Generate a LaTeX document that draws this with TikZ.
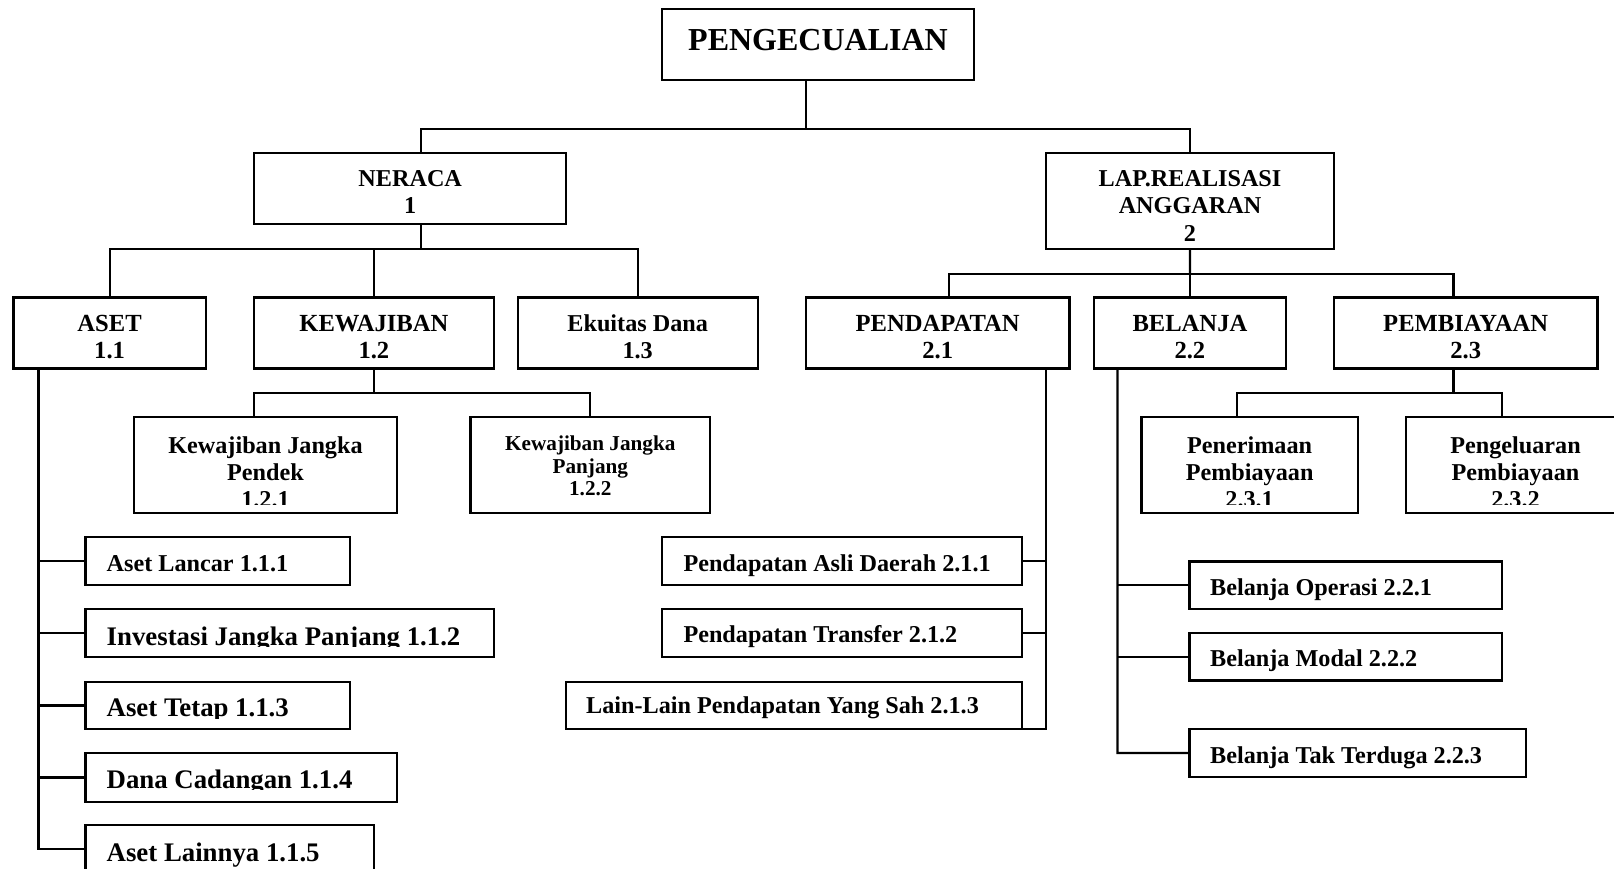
\documentclass[tikz,border=0pt]{standalone}
\usepackage{fontspec}
\setmainfont{Liberation Serif}
\newcommand\mkbox[5]{\node[bx, minimum width={#4pt-#2pt}, minimum height={#5pt-#3pt}] (#1) at ({(#2+#4)/2},{(#3+#5)/2}) {};}
\begin{document}
\begin{tikzpicture}[x=1pt,y=-1pt,
  bx/.style={draw, line width=2.2pt, rectangle, inner sep=0pt, outer sep=0pt},
  ln/.style={line width=2.2pt},
  tx/.style={inner sep=0pt, anchor=base, font=\bfseries\fontsize{24.2}{27}\selectfont},
  txl/.style={tx, anchor=base west},
  hdr/.style={font=\bfseries\fontsize{24.6}{27}\selectfont},
  big/.style={font=\bfseries\fontsize{26.8}{30}\selectfont},
  sml/.style={font=\bfseries\fontsize{21.2}{23}\selectfont},
  ttl/.style={font=\bfseries\fontsize{32}{36}\selectfont}]
\useasboundingbox (0,0) rectangle (1614,869);
\fill[white] (0,0) rectangle (1614,869);

% ---------- boxes ----------
\mkbox{title}{662}{9.3}{973.7}{80.3}
\mkbox{neraca}{254.2}{153.4}{566.1}{224.4}
\mkbox{lap}{1045.8}{153.4}{1334}{249.1}
\mkbox{aset}{13.4}{297.5}{205.9}{368.5}
\mkbox{kew}{254.2}{297.5}{493.6}{368.5}
\mkbox{eku}{517.7}{297.5}{757.6}{368.5}
\mkbox{pend}{806}{297.5}{1069.5}{368.5}
\mkbox{bel}{1094.2}{297.5}{1285.6}{368.5}
\mkbox{pemb}{1334}{297.5}{1597.5}{368.5}
\mkbox{kjp}{133.8}{416.9}{397.3}{512.6}
\mkbox{kjpj}{470.4}{416.9}{710.2}{512.6}
\mkbox{pen}{1141.5}{416.9}{1357.7}{512.6}
\mkbox{peng}{1406}{416.9}{1625}{512.6}
\mkbox{lancar}{85.5}{537.3}{350}{584.6}
\mkbox{invest}{85.5}{609.3}{494}{656.7}
\mkbox{tetap}{85.5}{681.7}{350}{729.3}
\mkbox{dana}{85.5}{753.3}{397.3}{801.7}
\mkbox{lainnya}{85.5}{825}{373.6}{873}
\mkbox{pad}{661.8}{537.3}{1022}{584.6}
\mkbox{trans}{661.8}{609.3}{1022}{656.7}
\mkbox{lain}{566}{681.7}{1022}{728.8}
\mkbox{op}{1189.5}{561.5}{1502}{608.8}
\mkbox{mod}{1189.5}{633}{1502}{680.4}
\mkbox{tak}{1189.5}{728.8}{1526}{777.1}

% ---------- texts ----------
\node[tx,ttl] (t-title) at (818,51) {PENGECUALIAN};
\node[tx] (t-ner1) at (410.2,186.5) {NERACA};
\node[tx] (t-ner2) at (410.2,213.5) {1};
\node[tx] (t-lap1) at (1190,186.5) {LAP.REALISASI};
\node[tx] (t-lap2) at (1190,213.5) {ANGGARAN};
\node[tx] (t-lap3) at (1190,241) {2};
\node[tx,hdr] (t-aset1) at (109.6,331) {ASET};
\node[tx,hdr] (t-aset2) at (109.6,358.5) {1.1};
\node[tx,hdr] (t-kew1) at (373.9,331) {KEWAJIBAN};
\node[tx,hdr] (t-kew2) at (373.9,358.5) {1.2};
\node[tx] (t-eku1) at (637.7,331) {Ekuitas Dana};
\node[tx] (t-eku2) at (637.7,358.5) {1.3};
\node[tx,hdr] (t-pend1) at (937.7,331) {PENDAPATAN};
\node[tx,hdr] (t-pend2) at (937.7,358.5) {2.1};
\node[tx,hdr] (t-bel1) at (1189.9,331) {BELANJA};
\node[tx,hdr] (t-bel2) at (1189.9,358.5) {2.2};
\node[tx,hdr] (t-pemb1) at (1465.7,331) {PEMBIAYAAN};
\node[tx,hdr] (t-pemb2) at (1465.7,358.5) {2.3};
\begin{scope}
\clip (133.8,416.9) rectangle (397.3,504);
\node[tx] (t-kjp1) at (265.5,453) {Kewajiban Jangka};
\node[tx] (t-kjp2) at (265.5,480) {Pendek};
\node[tx] (t-kjp3) at (265.5,507) {1.2.1};
\end{scope}
\node[tx,sml] (t-kjpj1) at (590.3,450) {Kewajiban Jangka};
\node[tx,sml] (t-kjpj2) at (590.3,473) {Panjang};
\node[tx,sml] (t-kjpj3) at (590.3,495) {1.2.2};
\begin{scope}
\clip (1141.5,416.9) rectangle (1625,504);
\node[tx] (t-pen1) at (1249.6,453) {Penerimaan};
\node[tx] (t-pen2) at (1249.6,480) {Pembiayaan};
\node[tx] (t-pen3) at (1249.6,507) {2.3.1};
\node[tx] (t-peng1) at (1515.5,453) {Pengeluaran};
\node[tx] (t-peng2) at (1515.5,480) {Pembiayaan};
\node[tx] (t-peng3) at (1515.5,507) {2.3.2};
\end{scope}
\node[txl] (t-lancar) at (106.5,571) {Aset Lancar 1.1.1};
\begin{scope}
\clip (85.5,609.3) rectangle (494,646.5);
\node[txl,big] (t-invest) at (106.5,645) {Investasi Jangka Panjang 1.1.2};
\end{scope}
\begin{scope}
\clip (85.5,681.7) rectangle (350,718);
\node[txl,big] (t-tetap) at (106.5,716.7) {Aset Tetap 1.1.3};
\end{scope}
\begin{scope}
\clip (85.5,753.3) rectangle (397.3,789.5);
\node[txl,big] (t-dana) at (106.5,788.3) {Dana Cadangan 1.1.4};
\end{scope}
\node[txl,big] (t-lainnya) at (106.5,861) {Aset Lainnya 1.1.5};
\node[txl] (t-pad) at (683.3,571) {Pendapatan Asli Daerah 2.1.1};
\node[txl] (t-trans) at (683.3,642.7) {Pendapatan Transfer 2.1.2};
\node[txl] (t-lain) at (586,713.3) {Lain-Lain Pendapatan Yang Sah 2.1.3};
\node[txl] (t-op) at (1210,595) {Belanja Operasi 2.2.1};
\node[txl] (t-mod) at (1210,666.5) {Belanja Modal 2.2.2};
\node[txl] (t-tak) at (1210,763) {Belanja Tak Terduga 2.2.3};

% ---------- connectors ----------
\coordinate (jt) at (806,128.7);
\coordinate (jtl) at (421,128.7);
\draw[ln] (title.south -| jt) -- (jt);
\draw[ln] (jtl |- neraca.north) -- (jtl) -- (jtl -| lap.north) -- (lap.north);

\coordinate (jn) at (421,249);
\draw[ln] (neraca.south -| jn) -- (jn);
\draw[ln] (aset.north) -- (aset.north |- jn) -- (eku.north |- jn) -- (eku.north);
\draw[ln] (kew.north) -- (kew.north |- jn);

\coordinate (jl) at (1190,273.8);
\coordinate (jlp) at (949,273.8);
\coordinate (jlb) at (1453.4,273.8);
\draw[ln] (lap.south) -- (jl);
\draw[ln] (jlp |- pend.north) -- (jlp) -- (jlb) -- (jlb |- pemb.north);
\draw[ln] (bel.north) -- (bel.north |- jl);

\coordinate (jk) at (373.6,393.2);
\coordinate (jk1) at (254.2,393.2);
\coordinate (jk2) at (589.8,393.2);
\draw[ln] (kew.south -| jk) -- (jk);
\draw[ln] (jk1 |- kjp.north) -- (jk1) -- (jk2) -- (jk2 |- kjpj.north);

\coordinate (jp) at (1453.4,393.2);
\coordinate (jp1) at (1237.2,393.2);
\coordinate (jp2) at (1501.8,393.2);
\draw[ln] (pemb.south -| jp) -- (jp);
\draw[ln] (jp1 |- pen.north) -- (jp1) -- (jp2) -- (jp2 |- peng.north);

\coordinate (ca) at (38.5,849);
\draw[ln] (aset.south -| ca) -- (ca) -- (lainnya.west);
\draw[ln] (ca |- lancar.west) -- (lancar.west);
\draw[ln] (ca |- invest.west) -- (invest.west);
\draw[ln] (ca |- tetap.west) -- (tetap.west);
\draw[ln] (ca |- dana.west) -- (dana.west);

\coordinate (cp) at (1045.8,728.8);
\draw[ln] (pend.south -| cp) -- (cp) -- (lain.south east);
\draw[ln] (pad.east) -- (pad.east -| cp);
\draw[ln] (trans.east) -- (trans.east -| cp);

\coordinate (cb) at (1117.5,753);
\draw[ln] (bel.south -| cb) -- (cb) -- (tak.west);
\draw[ln] (cb |- op.west) -- (op.west);
\draw[ln] (cb |- mod.west) -- (mod.west);
\end{tikzpicture}
\end{document}
